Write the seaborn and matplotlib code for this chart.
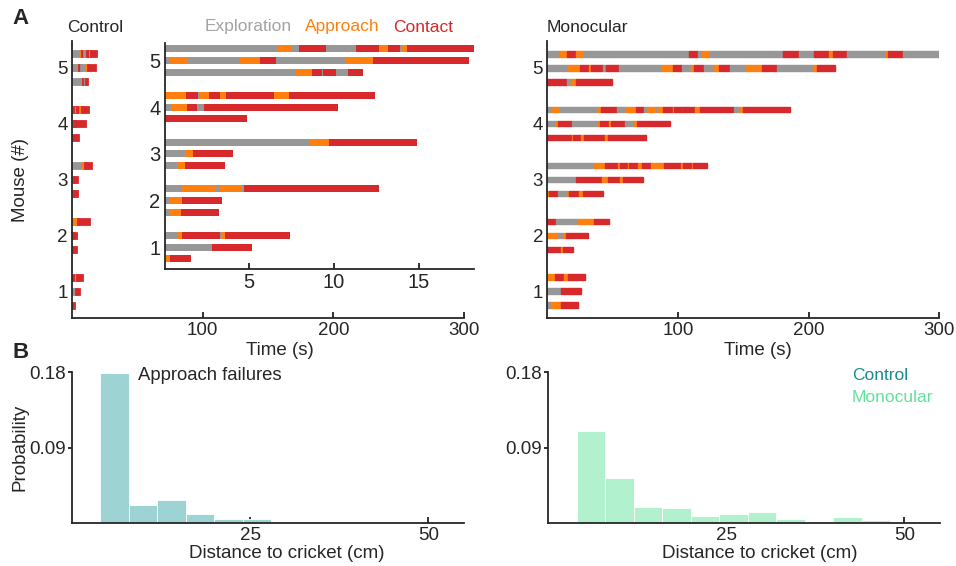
import numpy as np
import matplotlib
matplotlib.use("Agg")
import matplotlib.pyplot as plt
import seaborn as sns

# ethogram colours
state_colors = {"E": "#979797", "A": "#ff800e", "C": "#d7282b"}
state_names = ["Exploration", "Approach", "Contact"]
label_colors = ["#a3a3a3", "#ff800e", "#d7282b"]

# control trials: segment edges (s) and states, mouse 1 bottom -> mouse 5 top
ctrl_edges = [
    [0, 0.32, 1.54],
    [0, 2.72, 2.80, 5.16],
    [0, 0.74, 1.01, 3.27, 3.35, 3.59, 7.40],
    [0, 0.31, 0.95, 3.21],
    [0, 0.34, 1.01, 3.41],
    [0, 1.03, 2.98, 3.23, 4.51, 4.69, 12.64],
    [0, 0.76, 1.19, 3.55],
    [0, 1.21, 1.70, 4.02],
    [0, 8.52, 9.70, 14.88],
    [0, 4.86],
    [0, 0.42, 1.31, 1.94, 2.33, 10.25],
    [0, 1.25, 1.97, 2.03, 2.62, 3.27, 3.30, 3.61, 6.47, 7.34, 12.41],
    [0, 7.73, 8.71, 9.30, 9.36, 10.11, 10.80, 11.68],
    [0, 0.28, 1.31, 4.41, 5.63, 6.55, 10.70, 12.31, 17.93],
    [0, 6.67, 7.45, 7.93, 9.52, 11.29, 12.64, 13.19, 13.88, 13.98, 14.27, 18.24],
]
ctrl_states = ["AC", "EAC", "EACEAC", "EAC", "EAC", "EAEAEC", "EAC", "EAC", "EAC",
               "C", "EACEC", "ACEACEACAC", "EACECEC", "EAEACEAC", "EAECECACEAC"]

# monocular trials
mono_edges = [
    [0, 2.8, 10.5, 23.7],
    [0, 10.5, 25.5],
    [0, 6.1, 13.0, 15.6, 28.8],
    [0, 10.7, 12.2, 19.4],
    [0, 8.4, 12.2, 14.3, 31.4],
    [0, 6.4, 23.2, 36.0, 47.4],
    [0, 1.3, 7.9, 15.3, 16.3, 24.0, 27.6, 42.9],
    [0, 21.7, 41.8, 46.7, 55.6, 57.7, 73.2],
    [0, 35.7, 44.4, 53.8, 55.6, 62.0, 62.8, 69.1, 72.2, 79.3, 89.5, 102.0, 103.6, 110.5, 111.2, 122.4],
    [0, 18.6, 19.4, 25.8, 28.3, 44.1, 46.7, 75.5],
    [0, 6.6, 7.9, 19.1, 38.5, 40.3, 47.4, 48.5, 59.7, 66.1, 68.4, 93.9],
    [0, 3.3, 9.2, 38.5, 41.1, 53.3, 60.2, 67.6, 74.2, 76.0, 82.9, 84.4, 88.8, 95.9, 96.9,
     103.6, 104.1, 113.0, 116.8, 143.1, 147.4, 149.5, 185.7],
    [0, 7.7, 15.3, 17.9, 21.7, 49.2],
    [0, 15.6, 25.0, 32.1, 33.4, 42.9, 44.9, 54.6, 87.5, 95.9, 102.8, 109.9, 112.0, 119.9,
     127.3, 131.1, 139.8, 151.8, 158.9, 159.4, 164.0, 175.5, 203.6, 206.6, 220.4],
    [0, 9.2, 15.3, 21.7, 28.3, 108.2, 115.1, 118.1, 124.5, 180.1, 192.6, 204.1, 215.6,
     218.4, 229.3, 259.2, 260.5, 272.4, 300],
]
mono_states = ["EAC", "EC", "ACAC", "CAC", "AEAC", "CEAC", "ACEACAC", "ECACAC",
               "EACACACACACACAC", "CACACAC", "EACEACACEAC", "EAEACEACEAEACACECACEAC",
               "CCEAC", "EACACECEACEACEACEAEACEAC", "EACAECEAECECACEACE"]

mice = [1, 2, 3, 4, 5]

# approach failure histograms (probability per 4 cm bin)
ctrl_bins = [4, 8, 12, 16, 20, 24, 28]
ctrl_prob = [0.179, 0.021, 0.027, 0.011, 0.0045, 0.0045]
mono_bins = [4, 8, 12, 16, 20, 24, 28, 32, 36, 40, 44, 48]
mono_prob = [0.1095, 0.053, 0.019, 0.017, 0.008, 0.0108, 0.0128, 0.0044, 0.0, 0.0064, 0.0032]

sns.set_style("ticks")
plt.rcParams["font.family"] = ["Liberation Sans", "DejaVu Sans"]
plt.rcParams["axes.linewidth"] = 1.3

W, H = 956, 566
fig = plt.figure(figsize=(W / 100, H / 100), dpi=100)


def rect(l, t, r, b):
    return [l / W, 1 - b / H, (r - l) / W, (b - t) / H]


def draw_etho(ax, edges, states, h, lw=0):
    for i, (e, s) in enumerate(zip(edges, states)):
        m = i // 3
        y = 4 * m + (i % 3) - 1
        for k, st in enumerate(s):
            c = state_colors[st]
            ax.barh(y, e[k + 1] - e[k], left=e[k], height=h,
                    color=c, edgecolor=c, linewidth=lw)


def style(ax, size=13.5):
    sns.despine(ax=ax)
    ax.tick_params(direction="in", length=4, width=1.3, labelsize=size, pad=3,
                   color="#222222")


ax_c = fig.add_axes(rect(72, 41, 464, 318))
draw_etho(ax_c, ctrl_edges, ctrl_states, 0.3, lw=2)
ax_c.set_xlim(0, 300)
ax_c.set_ylim(-1.9, 17.9)
ax_c.set_xticks([100, 200, 300])
ax_c.set_yticks([4 * (m - 1) for m in mice], [str(m) for m in mice])
style(ax_c)
ax_c.set_xlabel("Time (s)", fontsize=13.5)
ax_c.xaxis.set_label_coords(0.53, -0.085)
ax_c.set_ylabel("Mouse (#)", fontsize=13.5)
ax_c.yaxis.set_label_coords(-0.11, 0.5)

ax_i = fig.add_axes(rect(164.5, 43, 474, 269.3))
draw_etho(ax_i, ctrl_edges, ctrl_states, 0.6)
ax_i.set_xlim(0, 18.25)
ax_i.set_ylim(-1.9, 17.5)
ax_i.set_xticks([5, 10, 15])
ax_i.set_yticks([4 * (m - 1) for m in mice], [str(m) for m in mice])
style(ax_i, 14.5)

ax_m = fig.add_axes(rect(547.3, 41, 939.3, 318))
draw_etho(ax_m, mono_edges, mono_states, 0.42, lw=1)
ax_m.set_xlim(0, 300)
ax_m.set_ylim(-1.9, 17.9)
ax_m.set_xticks([100, 200, 300])
ax_m.set_yticks([4 * (m - 1) for m in mice], [str(m) for m in mice])
style(ax_m)
ax_m.set_xlabel("Time (s)", fontsize=13.5)
ax_m.xaxis.set_label_coords(0.536, -0.085)

# histograms
hist_specs = [
    (rect(71.7, 372.3, 464, 522.7), ctrl_bins, ctrl_prob, "#9dd3d3", 0.548),
    (rect(548, 372.3, 940, 522.7), mono_bins, mono_prob, "#b1f1cd", 0.54),
]
for pos, bins, prob, col, lx in hist_specs:
    ax = fig.add_axes(pos)
    sns.histplot(x=bins[:-1], weights=prob, bins=bins, ax=ax, color=col, alpha=1,
                 edgecolor="white", linewidth=0.6)
    ax.set_xlim(0, 55)
    ax.set_ylim(0, 0.18)
    ax.set_xticks([25, 50])
    ax.set_yticks([0.09, 0.18], ["0.09", "0.18"])
    style(ax)
    ax.tick_params(axis="y", direction="out", length=3, pad=1.5)
    ax.set_xlabel("Distance to cricket (cm)", fontsize=13.5)
    ax.xaxis.set_label_coords(lx, -0.15)
    ax.set_ylabel("")
    if col == "#9dd3d3":
        ax.set_ylabel("Probability", fontsize=13.5)
        ax.yaxis.set_label_coords(-0.11, 0.5)
        ax.text(138 / W, 1 - 375 / H, "Approach failures", transform=fig.transFigure,
                fontsize=13.3, va="center")

fig.text(852 / W, 1 - 375 / H, "Control", color="#1b8b8b", fontsize=12.5, va="center")
fig.text(852 / W, 1 - 398 / H, "Monocular", color="#5fe39b", fontsize=12.5, va="center")

# headers
fig.text(67 / W, 1 - 27 / H, "Control", fontsize=12.5, va="center")
fig.text(547 / W, 1 - 27 / H, "Monocular", fontsize=12.5, va="center")
for name, col, x in zip(state_names, label_colors, [205, 305, 393]):
    fig.text(x / W, 1 - 27 / H, name, color=col, fontsize=12.5, va="center")
fig.text(12 / W, 1 - 18 / H, "A", fontsize=16, fontweight="bold", va="center")
fig.text(12 / W, 1 - 353 / H, "B", fontsize=16, fontweight="bold", va="center")

fig.savefig("out.png", dpi=100)
